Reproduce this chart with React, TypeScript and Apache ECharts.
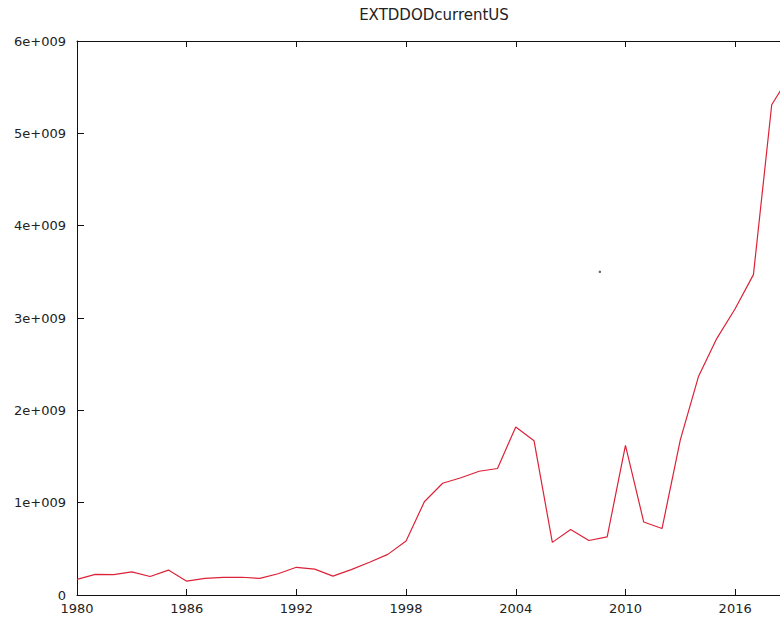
import React, { useEffect, useRef } from "react";
import * as echarts from "echarts";

const titleText = "EXTDDODcurrentUS";
const years = [
  1980, 1981, 1982, 1983, 1984, 1985, 1986, 1987, 1988, 1989,
  1990, 1991, 1992, 1993, 1994, 1995, 1996, 1997, 1998, 1999,
  2000, 2001, 2002, 2003, 2004, 2005, 2006, 2007, 2008, 2009,
  2010, 2011, 2012, 2013, 2014, 2015, 2016, 2017, 2018, 2019,
];
const values = [
  0.17e9, 0.224e9, 0.22e9, 0.25e9, 0.2e9, 0.27e9, 0.15e9, 0.18e9, 0.19e9, 0.192e9,
  0.18e9, 0.23e9, 0.3e9, 0.28e9, 0.205e9, 0.275e9, 0.355e9, 0.44e9, 0.585e9, 1.01e9,
  1.21e9, 1.27e9, 1.34e9, 1.37e9, 1.82e9, 1.67e9, 0.57e9, 0.71e9, 0.59e9, 0.63e9,
  1.62e9, 0.79e9, 0.72e9, 1.68e9, 2.37e9, 2.78e9, 3.1e9, 3.47e9, 5.31e9, 5.63e9,
];
const strayPoint = [[2008.6, 3.5e9]];
const xMin = 1980;
const xMax = 2019;
const xStep = 6;
const yMin = 0;
const yMax = 6e9;
const yStep = 1e9;

const fmtY = (v: number) => (v === 0 ? "0" : `${Math.round(v / 1e9)}e+009`);

export default function App() {
  const ref = useRef<HTMLDivElement>(null);
  useEffect(() => {
    if (!ref.current) return;
    const chart = echarts.init(ref.current, undefined, { renderer: "svg" });
    const font = "DejaVu Sans";
    const axisLine = { show: true, onZero: false, lineStyle: { color: "#111", width: 1 } };
    const xTick = { show: true, inside: true, length: 6, lineStyle: { color: "#111" } };
    const yTick = { show: true, inside: true, length: 7, lineStyle: { color: "#111" } };
    chart.setOption({
      animation: false,
      backgroundColor: "#fff",
      title: {
        text: titleText,
        left: 434,
        top: 7,
        padding: 0,
        textAlign: "center",
        textStyle: { fontFamily: font, fontSize: 15, fontWeight: "normal", color: "#222" },
      },
      grid: { left: 77, top: 41, right: 10, bottom: 27, containLabel: false },
      xAxis: [
        {
          type: "value",
          position: "bottom",
          min: xMin,
          max: xMax,
          interval: xStep,
          axisLine,
          axisTick: xTick,
          axisLabel: {
            show: true,
            showMaxLabel: false,
            margin: 7,
            fontFamily: font,
            fontSize: 13,
            color: "#222",
            formatter: (v: number) => String(v),
          },
          splitLine: { show: false },
        },
        {
          type: "value",
          position: "top",
          min: xMin,
          max: xMax,
          interval: xStep,
          axisLine,
          axisTick: xTick,
          axisLabel: { show: false },
          splitLine: { show: false },
        },
      ],
      yAxis: [
        {
          type: "value",
          position: "left",
          min: yMin,
          max: yMax,
          interval: yStep,
          axisLine,
          axisTick: yTick,
          axisLabel: {
            margin: 11,
            fontFamily: font,
            fontSize: 13,
            color: "#222",
            formatter: fmtY,
          },
          splitLine: { show: false },
        },
        {
          type: "value",
          position: "right",
          min: yMin,
          max: yMax,
          interval: yStep,
          axisLine,
          axisTick: yTick,
          axisLabel: { show: false },
          splitLine: { show: false },
        },
      ],
      series: [
        {
          type: "line",
          xAxisIndex: 0,
          yAxisIndex: 0,
          data: years.map((y, i) => [y, values[i]]),
          showSymbol: false,
          symbol: "none",
          lineStyle: { color: "#dc2238", width: 1.2 },
          clip: true,
        },
        {
          type: "scatter",
          xAxisIndex: 0,
          yAxisIndex: 0,
          data: strayPoint,
          symbol: "circle",
          symbolSize: 2.5,
          itemStyle: { color: "#444" },
        },
      ],
    });
    return () => chart.dispose();
  }, []);
  return (
    <div
      style={{
        position: "fixed",
        left: 0,
        top: 0,
        width: 780,
        height: 622,
        overflow: "hidden",
        background: "#fff",
      }}
    >
      <div ref={ref} style={{ width: 800, height: 622 }} />
    </div>
  );
}
